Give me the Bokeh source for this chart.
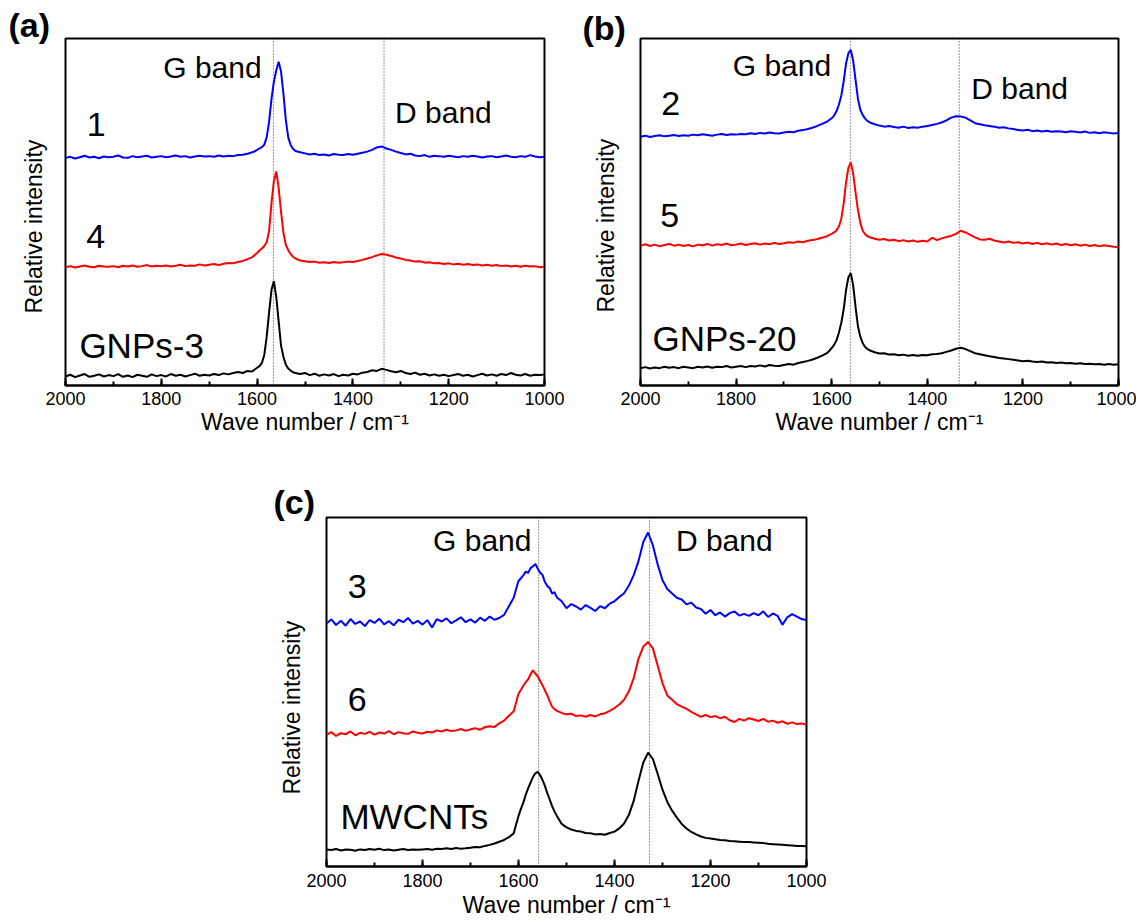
import math
from bokeh.plotting import figure
from bokeh.models import Range1d, SingleIntervalTicker, Span, Label, Spacer, Title
from bokeh.layouts import column, row
from bokeh.embed import file_html
from bokeh.resources import INLINE

FONT = "Liberation Sans"

# Sampling grid of the Raman shift (cm-1): 10 cm-1 steps, 5 cm-1 steps round the G band
WAVENUMBER = list(range(2000, 1609, -10)) + list(range(1605, 1519, -5)) + list(range(1510, 999, -10))

# ---- panel (a) ----
A_1 = [65.6, 65.9, 65.4, 65.8, 66.2, 65.7, 65.9, 65.5, 66.0, 65.8,
       65.9, 66.3, 65.7, 65.6, 66.1, 65.8, 66.0, 66.2, 65.7, 65.9,
       66.1, 65.8, 66.0, 66.3, 65.9, 66.1, 65.7, 66.0, 66.2, 66.0,
       66.1, 65.9, 66.3, 66.0, 66.2, 66.1, 66.4, 66.5, 66.8, 67.2,
       67.5, 67.9, 68.3, 68.7, 69.4, 71.5, 76.0, 82.5, 87.5, 90.8, 93.3, 90.5, 84.0, 76.5, 71.5, 69.3, 68.2, 67.6,
       67.2, 66.9, 66.6, 66.8, 66.4, 66.6, 66.3, 66.7, 66.5, 66.4,
       66.7, 66.5, 66.8, 67.1, 67.4, 67.9, 68.6, 68.9, 68.3, 67.9,
       67.4, 67.0, 66.6, 66.8, 66.3, 66.1, 66.4, 65.9, 66.2, 66.1,
       65.9, 66.2, 66.0, 65.8, 66.1, 65.9, 66.2, 66.0, 65.7, 66.0,
       66.1, 65.8, 66.0, 66.3, 65.9, 65.8, 66.1, 65.9, 66.4, 66.0,
       65.8, 65.9]
A_4 = [34.1, 34.4, 34.0, 34.3, 34.6, 34.2, 34.1, 34.5, 34.3, 34.2,
       34.4, 34.1, 34.5, 34.3, 34.6, 34.2, 34.4, 34.7, 34.3, 34.5,
       34.4, 34.6, 34.3, 34.5, 34.8, 34.4, 34.6, 34.5, 34.9, 34.6,
       34.8, 35.0, 34.7, 35.1, 35.3, 35.2, 35.6, 35.9, 36.4, 37.0,
       37.6, 38.2, 38.9, 39.5, 40.2, 41.3, 44.5, 52.5, 58.8, 61.7, 57.0, 50.0, 44.0, 40.5, 39.0, 37.9, 37.1, 36.6,
       36.0, 35.8, 35.6, 35.7, 35.4, 35.5, 35.3, 35.6, 35.4, 35.5,
       35.7, 35.6, 35.9, 36.2, 36.6, 37.0, 37.5, 37.9, 37.7, 37.3,
       36.9, 36.6, 36.2, 36.0, 35.7, 35.8, 35.4, 35.5, 35.2, 35.3,
       35.0, 35.2, 34.9, 35.1, 34.8, 35.0, 34.7, 34.9, 34.6, 34.8,
       34.5, 34.7, 34.4, 34.6, 34.3, 34.5, 34.2, 34.5, 34.3, 34.4,
       34.1, 34.2]
A_GNP3 = [2.6, 3.1, 2.4, 2.9, 3.3, 2.5, 2.8, 3.2, 2.6, 3.0,
          2.7, 3.3, 2.5, 2.9, 2.4, 3.1, 2.8, 2.5, 3.2, 2.7,
          3.0, 2.6, 3.3, 2.8, 3.1, 2.6, 3.0, 3.4, 2.8, 3.1,
          2.9, 3.3, 3.0, 3.5, 3.2, 3.6, 3.9, 3.6, 4.2, 4.0,
          4.6, 5.1, 5.6, 6.5, 8.8, 14.0, 21.0, 27.5, 30.1, 25.5, 18.5, 11.5, 8.3, 6.0, 4.9, 4.3, 3.8, 3.6,
          3.3, 3.6, 3.0, 3.4, 2.8, 3.2, 2.9, 3.3, 2.7, 3.1,
          2.9, 3.4, 3.2, 3.7, 3.9, 4.4, 4.2, 4.8, 4.5, 4.1,
          3.8, 4.2, 3.6, 3.3, 3.7, 3.1, 3.4, 2.9, 3.2, 2.8,
          3.1, 2.7, 3.0, 3.3, 2.8, 3.1, 2.6, 3.0, 3.4, 2.9,
          3.2, 2.8, 3.3, 3.0, 3.6, 3.1, 2.9, 3.3, 2.8, 3.1,
          3.0, 3.2]

# ---- panel (b) ----
B_2 = [71.7, 72.0, 71.6, 71.9, 72.1, 71.8, 72.0, 72.2, 71.9, 72.1,
       72.0, 72.3, 72.1, 72.4, 72.2, 72.0, 72.3, 72.5, 72.2, 72.4,
       72.3, 72.5, 72.4, 72.7, 72.5, 72.8, 72.6, 72.9, 72.7, 72.6,
       72.9, 73.1, 73.0, 73.4, 73.6, 73.9, 74.3, 74.8, 75.4, 76.0,
       76.5, 77.0, 77.8, 79.0, 80.9, 83.5, 87.6, 92.8, 95.8, 96.7, 93.5, 88.0, 82.5, 79.4, 77.9, 76.9, 76.2, 75.8,
       75.3, 74.9, 74.6, 74.8, 74.5, 74.3, 74.6, 74.2, 74.4, 74.3,
       74.6, 74.8, 75.1, 75.4, 75.8, 76.4, 77.2, 77.6, 77.5, 77.2,
       76.4, 75.6, 75.3, 75.0, 74.8, 74.6, 74.3, 74.4, 74.1, 73.9,
       73.6, 73.5, 73.7, 73.3, 73.5, 73.2, 73.4, 73.1, 73.3, 73.2,
       73.0, 73.3, 73.1, 72.9, 73.2, 72.8, 73.0, 72.7, 73.0, 72.8,
       72.6, 72.8]
B_5 = [40.3, 40.7, 40.2, 40.6, 40.1, 40.5, 40.8, 40.3, 40.6, 40.2,
       40.5, 40.1, 40.6, 40.4, 40.8, 40.3, 40.7, 40.5, 40.9, 40.4,
       40.6, 40.9, 40.5, 40.8, 41.0, 40.6, 40.9, 40.7, 41.1, 40.8,
       41.0, 41.3, 41.1, 41.5, 41.3, 41.7, 41.9, 42.2, 42.6, 43.0,
       43.4, 43.7, 44.1, 44.7, 45.8, 48.0, 52.4, 58.5, 62.8, 64.3, 61.0, 55.5, 50.5, 46.8, 44.6, 43.6, 43.0, 42.7,
       42.3, 42.0, 42.2, 41.8, 42.0, 41.6, 41.9, 41.5, 41.8, 41.4,
       41.7, 41.5, 42.6, 41.9, 42.4, 42.8, 43.1, 43.7, 44.6, 44.1,
       43.4, 42.7, 42.1, 42.0, 42.3, 41.8, 41.5, 41.2, 41.5, 41.1,
       41.3, 40.9, 41.2, 40.8, 41.1, 40.7, 41.0, 40.6, 40.9, 40.5,
       40.8, 40.4, 40.7, 40.3, 40.6, 40.2, 40.5, 40.1, 40.4, 40.2,
       40.0, 39.9]
B_GNP20 = [5.0, 5.3, 4.9, 5.2, 5.0, 5.4, 5.1, 5.3, 5.0, 5.4,
           5.2, 5.0, 5.4, 5.2, 5.5, 5.1, 5.4, 5.3, 5.6, 5.2,
           5.4, 5.6, 5.3, 5.6, 5.5, 5.8, 5.5, 5.9, 5.7, 5.6,
           5.9, 6.2, 6.0, 6.5, 6.8, 7.1, 7.5, 8.0, 8.6, 9.3,
           10.0, 10.8, 11.7, 13.0, 15.2, 18.0, 21.9, 27.5, 31.2, 32.4, 28.8, 22.5, 17.0, 14.0, 12.2, 11.1, 10.5, 10.1,
           9.6, 9.2, 9.3, 8.9, 9.0, 8.7, 8.9, 8.6, 8.8, 8.6,
           8.8, 8.7, 9.0, 9.1, 9.3, 9.7, 10.1, 10.6, 10.9, 10.5,
           9.9, 9.3, 9.0, 8.7, 8.4, 8.2, 7.9, 7.8, 7.6, 7.4,
           7.2, 7.0, 7.1, 6.9, 6.8, 6.9, 6.6, 6.7, 6.5, 6.6,
           6.4, 6.5, 6.3, 6.4, 6.2, 6.3, 6.1, 6.2, 6.0, 6.2,
           6.0, 6.1]

# ---- panel (c) ----
C_3 = [69.6, 70.8, 69.2, 70.4, 69.0, 70.9, 69.5, 70.2, 68.9, 70.6,
       69.8, 71.0, 69.4, 70.3, 69.1, 70.7, 70.0, 71.2, 69.6, 70.4,
       69.3, 70.6, 68.5, 70.9, 70.2, 71.1, 69.7, 70.5, 71.4, 70.0,
       70.8, 69.9, 71.3, 70.4, 71.6, 70.7, 71.2, 72.1, 74.6, 77.0,
       79.5, 81.8, 82.6, 83.4, 84.5, 84.1, 85.5, 86.0, 86.7, 85.4, 84.2, 83.6, 81.5, 80.4, 79.8, 78.2, 78.6, 77.1,
       76.0, 74.0, 75.2, 74.5, 73.6, 74.9, 74.1, 73.2, 74.6, 74.0,
       75.3, 76.0, 77.2, 78.3, 80.5, 83.5, 87.5, 93.0, 95.7, 92.0,
       86.5, 82.0, 79.5, 78.2, 77.0, 76.5, 75.1, 75.6, 74.2, 73.8,
       72.4, 73.5, 72.0, 72.8, 71.6, 72.6, 73.1, 71.9, 72.4, 71.8,
       72.6, 72.0, 73.1, 71.5, 72.5, 71.8, 69.3, 71.4, 72.3, 71.6,
       70.9, 70.6]
C_6 = [37.7, 38.5, 37.4, 38.2, 37.9, 38.7, 37.6, 38.3, 38.0, 38.6,
       37.8, 38.4, 38.1, 38.8, 37.9, 38.5, 38.2, 38.0, 38.7, 38.3,
       38.1, 38.6, 38.4, 39.0, 38.7, 39.2, 38.8, 39.0, 39.4, 38.9,
       39.3, 39.6, 39.2, 39.9, 40.2, 40.0, 41.0, 41.8, 43.2, 44.5,
       47.0, 49.5, 50.6, 51.8, 52.8, 53.6, 55.0, 56.2, 55.3, 54.5, 53.2, 51.9, 50.5, 49.0, 47.3, 45.8, 45.1, 44.6,
       44.0, 43.6, 43.8, 43.1, 43.3, 42.9, 43.4, 43.0, 43.6, 43.9,
       44.6, 45.4, 46.4, 47.8, 50.2, 54.0, 59.5, 63.0, 64.3, 62.5,
       57.5, 52.5, 49.0, 47.8, 46.5, 45.8, 45.2, 44.3, 43.6, 42.9,
       43.4, 42.8, 43.1, 42.5, 42.9, 41.9, 41.4, 42.3, 41.8, 42.5,
       42.1, 41.7, 42.3, 41.5, 41.8, 41.2, 41.6, 40.9, 41.3, 40.8,
       41.0, 40.6]
C_MWCNT = [4.9, 4.7, 5.0, 4.6, 4.9, 4.8, 4.5, 4.9, 4.7, 5.0,
           4.8, 5.1, 4.7, 4.9, 4.6, 4.8, 5.0, 4.7, 4.9, 4.8,
           4.9, 5.0, 4.8, 5.1, 5.0, 5.2, 5.0, 5.3, 5.1, 5.2,
           5.4, 5.6, 5.5, 5.9, 6.2, 6.6, 7.1, 7.6, 8.4, 9.5,
           12.0, 14.5, 16.5, 18.3, 20.5, 22.4, 24.0, 25.6, 26.7, 27.1, 26.2, 24.8, 23.1, 21.0, 19.2, 17.3, 15.8, 14.5,
           12.2, 11.2, 10.6, 10.2, 10.0, 9.6, 9.5, 9.2, 9.3, 9.1,
           9.6, 10.0, 10.9, 12.3, 14.8, 18.8, 24.5, 29.8, 32.6, 30.8,
           26.5, 22.0, 18.5, 16.0, 14.0, 12.2, 10.9, 9.9, 9.2, 8.6,
           8.2, 8.0, 7.8, 7.6, 7.5, 7.3, 7.2, 7.1, 7.0, 7.0,
           6.9, 6.8, 6.7, 6.5, 6.4, 6.3, 6.2, 6.1, 6.0, 5.9,
           5.9, 5.8]

BAND_LINES = {"a": (1566, 1335), "b": (1561, 1333), "c": (1558, 1327)}
BLUE, RED, BLACK = "#0000ff", "#ff0000", "#000000"


def make_panel(series, bands, texts, tag, tag_offset, tag_standoff, ylab_offset, ylab_standoff,
               size, borders, label_standoffs):
    left, right, top, bottom = borders
    p = figure(width=size[0], height=size[1],
               x_range=Range1d(2000, 1000), y_range=Range1d(0, 100),
               output_backend="svg", toolbar_location=None,
               min_border_left=left, min_border_right=right,
               min_border_top=top, min_border_bottom=bottom)
    p.yaxis.visible = False
    p.xgrid.visible = False
    p.ygrid.visible = False
    p.outline_line_color = "black"
    p.outline_line_width = 2
    p.outline_line_alpha = 1.0
    p.background_fill_color = "white"
    p.border_fill_color = "white"

    # panel tag "(a)" etc. as the plot title, pulled to the upper-left corner
    p.title.text = tag
    p.title.align = "left"
    p.title.vertical_align = "bottom"
    p.title.offset = tag_offset
    p.title.standoff = tag_standoff
    p.title.text_font = FONT
    p.title.text_font_size = "34px"
    p.title.text_font_style = "bold"
    p.title.text_color = "black"

    # y-axis title (no ticks in the original)
    p.add_layout(Title(text="Relative intensity", align="left", vertical_align="middle",
                       offset=ylab_offset, standoff=ylab_standoff, text_font=FONT,
                       text_font_size="23px", text_font_style="normal",
                       text_color="black"), "left")

    ax = p.xaxis[0]
    ax.ticker = SingleIntervalTicker(interval=200, num_minor_ticks=2)
    ax.axis_line_width = 2
    ax.axis_line_color = "black"
    ax.major_tick_in = 7
    ax.major_tick_out = 0
    ax.minor_tick_in = 4
    ax.minor_tick_out = 0
    ax.major_tick_line_width = 2
    ax.minor_tick_line_width = 2
    ax.major_tick_line_color = "black"
    ax.minor_tick_line_color = "black"
    ax.major_label_text_font = FONT
    ax.major_label_text_font_size = "18px"
    ax.major_label_text_color = "black"
    ax.major_label_standoff = label_standoffs[0]
    ax.axis_label = "Wave number / cm\u207b\u00b9"
    ax.axis_label_text_font = FONT
    ax.axis_label_text_font_size = "23px"
    ax.axis_label_text_font_style = "normal"
    ax.axis_label_text_color = "black"
    ax.axis_label_standoff = label_standoffs[1]

    for loc in bands:
        p.add_layout(Span(location=loc, dimension="height", line_color="#333333",
                          line_width=1, line_dash="1 2", level="underlay"))

    for ys, color in series:
        p.line(WAVENUMBER, ys, line_color=color, line_width=2)

    for txt, x, y, fsize, align in texts:
        p.add_layout(Label(x=x, y=y, text=txt, text_font=FONT, text_font_size=fsize,
                           text_align=align, text_baseline="alphabetic", text_color="black"))
    return p


pa = make_panel([(A_1, BLUE), (A_4, RED), (A_GNP3, BLACK)], BAND_LINES["a"],
                [("G band", 1796, 91.6, "30px", "left"), ("D band", 1312, 78.6, "30px", "left"),
                 ("1", 1936, 75.1, "34px", "center"), ("4", 1937, 43.0, "34px", "center"),
                 ("GNPs-3", 1971, 11.5, "35px", "left")],
                "(a)", -57, -10, 72, 35.5, (564, 440), (65, 20, 37, 55), (6, 1))

pb = make_panel([(B_2, BLUE), (B_5, RED), (B_GNP20, BLACK)], BAND_LINES["b"],
                [("G band", 1807, 92.3, "30px", "left"), ("D band", 1308, 85.7, "30px", "left"),
                 ("2", 1937, 81.2, "34px", "center"), ("5", 1939, 49.0, "34px", "center"),
                 ("GNPs-20", 1975, 13.6, "35px", "left")],
                "(b)", -58, -16, 73, 41.5, (572, 440), (76, 18, 38, 52), (6, 1))

pc = make_panel([(C_3, BLUE), (C_6, RED), (C_MWCNT, BLACK)], BAND_LINES["c"],
                [("G band", 1778, 93.3, "30px", "left"), ("D band", 1272, 93.3, "30px", "left"),
                 ("3", 1936, 80.2, "34px", "center"), ("6", 1936, 47.8, "34px", "center"),
                 ("MWCNTs", 1971, 14.2, "35px", "left")],
                "(c)", -53, -6, 72, 41.5, (572, 480), (72, 20, 77, 53), (7, 2))

layout = column(row(pa, pb), row(Spacer(width=254, height=480), pc))

with open("out.html", "w") as f:
    f.write(file_html(layout, INLINE))
